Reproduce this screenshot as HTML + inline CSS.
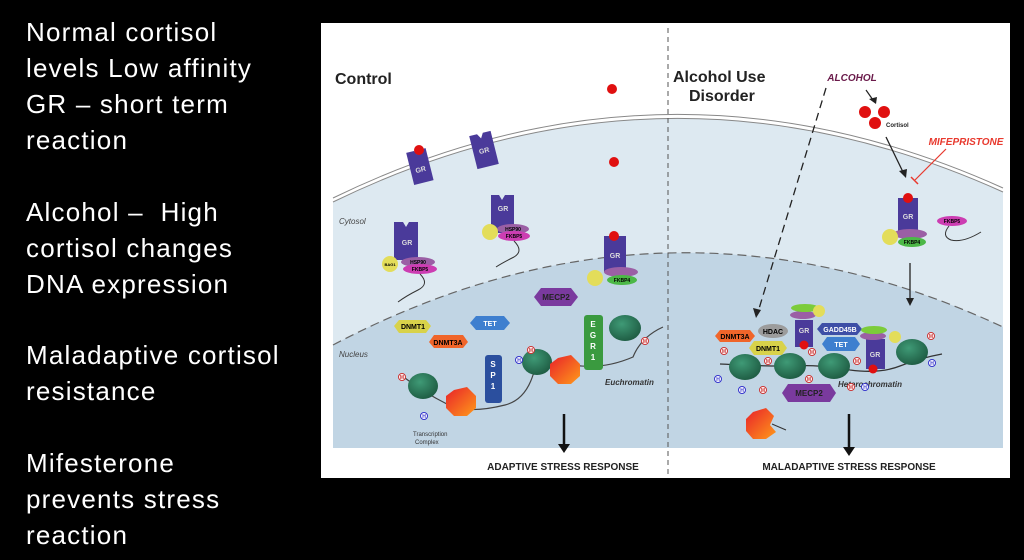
<!DOCTYPE html>
<html><head><meta charset="utf-8"><style>
html,body{margin:0;padding:0;background:#000;width:1024px;height:560px;overflow:hidden}
.t{position:absolute;left:26px;color:#fff;font-family:"Liberation Sans",sans-serif;font-size:26px;letter-spacing:1.2px;line-height:36px;white-space:nowrap}
svg{position:absolute;left:0;top:0}
</style></head><body>
<div class="t" style="top:14px">Normal cortisol<br>levels Low affinity<br>GR – short term<br>reaction</div>
<div class="t" style="top:194px">Alcohol –&nbsp; High<br>cortisol changes<br>DNA expression</div>
<div class="t" style="top:337px">Maladaptive cortisol<br>resistance</div>
<div class="t" style="top:445px">Mifesterone<br>prevents stress<br>reaction</div>
<svg width="1024" height="560" viewBox="0 0 1024 560" font-family="Liberation Sans, sans-serif">
<defs>
<linearGradient id="og" x1="0" y1="0" x2="1" y2="1"><stop offset="0" stop-color="#e8202a"/><stop offset="1" stop-color="#ff9a1a"/></linearGradient>
<radialGradient id="ng" cx="0.4" cy="0.35" r="0.7"><stop offset="0" stop-color="#3f9a76"/><stop offset="1" stop-color="#1d5a41"/></radialGradient>
</defs>
<rect x="321" y="23" width="689" height="455" fill="#fff"/>
<path d="M333,202 Q666,40 1003,192 L1003,448 L333,448 Z" fill="#dde9f1"/>
<path d="M333,345 Q666,170 1003,327 L1003,448 L333,448 Z" fill="#c1d5e4"/>
<path d="M333,202 Q666,40 1003,192" fill="none" stroke="#888" stroke-width="1"/>
<path d="M333,198 Q666,36 1003,188" fill="none" stroke="#888" stroke-width="1"/>
<path d="M333,345 Q666,170 1003,327" fill="none" stroke="#666" stroke-width="1.2" stroke-dasharray="9,5"/>
<line x1="668" y1="28" x2="668" y2="478" stroke="#555" stroke-width="1" stroke-dasharray="5,4"/>
<text x="335" y="84" font-size="16" font-weight="bold" fill="#222">Control</text>
<text x="673" y="82" font-size="16" font-weight="bold" fill="#222">Alcohol Use</text>
<text x="689" y="101" font-size="16" font-weight="bold" fill="#222">Disorder</text>
<text x="339" y="224" font-size="8" font-style="italic" fill="#444">Cytosol</text>
<text x="339" y="357" font-size="8" font-style="italic" fill="#444">Nucleus</text>
<circle cx="612" cy="89" r="5" fill="#e01010"/>
<circle cx="614" cy="162" r="5" fill="#e01010"/>
<g transform="rotate(-14 420 167)"><path d="M410,150 h8 l2,4 l2,-4 h8 v33 h-20 z" fill="#4a3a9a"/><text x="420" y="172" font-size="7" fill="#ddd" text-anchor="middle" font-weight="bold">GR</text></g>
<circle cx="419" cy="150" r="5" fill="#e01010"/>
<g transform="rotate(-14 484 150)"><path d="M473,133 h8 l3,5 l3,-5 h8 v34 h-22 z" fill="#4a3a9a"/><text x="484" y="153" font-size="7" fill="#ddd" text-anchor="middle" font-weight="bold">GR</text></g>
<path d="M394,222 h9 l3,5 l3,-5 h9 v38 h-24 z" fill="#4a3a9a"/><text x="407" y="245" font-size="7" fill="#ddd" text-anchor="middle" font-weight="bold">GR</text>
<ellipse cx="418" cy="262" rx="17" ry="5" fill="#9b5fa5"/><text x="418" y="264" font-size="5" text-anchor="middle" font-weight="bold">HSP90</text>
<ellipse cx="420" cy="269" rx="17" ry="5" fill="#cc3db2"/><text x="420" y="271" font-size="5" text-anchor="middle" font-weight="bold">FKBP5</text>
<circle cx="390" cy="264" r="8" fill="#e3dd5a"/><text x="390" y="266" font-size="4" text-anchor="middle" font-weight="bold">BAG1</text>
<path d="M420,274 q10,10 -2,16 q-12,6 -20,12" fill="none" stroke="#333" stroke-width="1"/>
<path d="M491,195 h8 l3,5 l3,-5 h9 v38 h-23 z" fill="#4a3a9a"/><text x="503" y="211" font-size="7" fill="#ddd" text-anchor="middle" font-weight="bold">GR</text>
<ellipse cx="513" cy="229" rx="16" ry="5" fill="#9b5fa5"/><text x="513" y="231" font-size="5" text-anchor="middle" font-weight="bold">HSP90</text>
<ellipse cx="514" cy="236" rx="16" ry="5" fill="#cc3db2"/><text x="514" y="238" font-size="5" text-anchor="middle" font-weight="bold">FKBP5</text>
<circle cx="490" cy="232" r="8" fill="#e3dd5a"/>
<path d="M514,241 q10,10 0,16 q-12,6 -18,10" fill="none" stroke="#333" stroke-width="1"/>
<path d="M604,236 h22 v36 h-22 z" fill="#4a3a9a"/><text x="615" y="258" font-size="7" fill="#ddd" text-anchor="middle" font-weight="bold">GR</text>
<circle cx="614" cy="236" r="5" fill="#e01010"/>
<ellipse cx="621" cy="272" rx="17" ry="5" fill="#9b5fa5"/>
<ellipse cx="622" cy="280" rx="15" ry="5" fill="#4cb847"/><text x="622" y="282" font-size="5" text-anchor="middle" font-weight="bold">FKBP4</text>
<circle cx="595" cy="278" r="8" fill="#e3dd5a"/>
<polygon points="534,297 541,288 571,288 578,297 571,306 541,306" fill="#7a3a9e"/><text x="556" y="300" font-size="8" font-weight="bold" text-anchor="middle" fill="#222">MECP2</text>
<polygon points="470,323 476,316 504,316 510,323 504,330 476,330" fill="#3e7fcf"/><text x="490" y="326" font-size="7" font-weight="bold" text-anchor="middle" fill="#fff">TET</text>
<polygon points="394,326 399,320 426,320 431,326 426,333 399,333" fill="#d8d24a"/><text x="413" y="329" font-size="7" font-weight="bold" text-anchor="middle">DNMT1</text>
<polygon points="429,342 434,335 463,335 468,342 463,348 434,348" fill="#f0652a"/><text x="448" y="345" font-size="7" font-weight="bold" text-anchor="middle">DNMT3A</text>
<path d="M405,378 q20,15 40,25 q20,12 60,2 q20,-5 28,-30 q8,-15 40,-10 q30,5 60,-8 q8,-20 30,-30" fill="none" stroke="#444" stroke-width="1.2"/>
<ellipse cx="423" cy="386" rx="15" ry="13" fill="url(#ng)"/>
<ellipse cx="537" cy="362" rx="15" ry="13" fill="url(#ng)"/>
<ellipse cx="625" cy="328" rx="16" ry="13" fill="url(#ng)"/>
<polygon points="454,390 467,387 476,396 476,408 467,416 454,416 446,408 446,396" fill="url(#og)"/>
<polygon points="558,358 571,355 580,364 580,376 571,384 558,384 550,376 550,364" fill="url(#og)"/>
<rect x="485" y="355" width="17" height="48" rx="3" fill="#2b4f9e"/><text x="493" y="367" font-size="8" font-weight="bold" fill="#fff" text-anchor="middle">S</text><text x="493" y="378" font-size="8" font-weight="bold" fill="#fff" text-anchor="middle">P</text><text x="493" y="389" font-size="8" font-weight="bold" fill="#fff" text-anchor="middle">1</text>
<rect x="584" y="315" width="19" height="55" rx="3" fill="#3a9a3f"/><text x="593" y="327" font-size="8" font-weight="bold" fill="#fff" text-anchor="middle">E</text><text x="593" y="338" font-size="8" font-weight="bold" fill="#fff" text-anchor="middle">G</text><text x="593" y="349" font-size="8" font-weight="bold" fill="#fff" text-anchor="middle">R</text><text x="593" y="360" font-size="8" font-weight="bold" fill="#fff" text-anchor="middle">1</text>
<text x="605" y="385" font-size="8" font-weight="bold" font-style="italic" fill="#333">Euchromatin</text>
<text x="413" y="436" font-size="6" fill="#333">Transcription</text><text x="415" y="444" font-size="6" fill="#333">Complex</text>
<g font-size="5" text-anchor="middle" font-weight="bold">
<circle cx="402" cy="377" r="3.5" fill="#fff" stroke="#c33"/><text x="402" y="379" fill="#c33">M</text>
<circle cx="424" cy="416" r="3.5" fill="#fff" stroke="#33c"/><text x="424" y="418" fill="#33c">H</text>
<circle cx="519" cy="360" r="3.5" fill="#fff" stroke="#33c"/><text x="519" y="362" fill="#33c">H</text>
<circle cx="531" cy="350" r="3.5" fill="#fff" stroke="#c33"/><text x="531" y="352" fill="#c33">M</text>
<circle cx="645" cy="341" r="3.5" fill="#fff" stroke="#c33"/><text x="645" y="343" fill="#c33">M</text>
</g>
<line x1="564" y1="414" x2="564" y2="445" stroke="#111" stroke-width="2.5"/><polygon points="558,444 570,444 564,453" fill="#111"/>
<text x="563" y="470" font-size="10" font-weight="bold" text-anchor="middle" fill="#222">ADAPTIVE STRESS RESPONSE</text>
<text x="852" y="81" font-size="10" font-weight="bold" font-style="italic" fill="#6a1a4a" text-anchor="middle">ALCOHOL</text>
<line x1="826" y1="88" x2="758" y2="312" stroke="#222" stroke-width="1.3" stroke-dasharray="8,5"/><polygon points="753,308 761,310 756,318" fill="#222"/>
<line x1="866" y1="90" x2="873" y2="100" stroke="#222" stroke-width="1.2"/><polygon points="869,99 877,97 876,104" fill="#222"/>
<circle cx="865" cy="112" r="6" fill="#e01010"/><circle cx="884" cy="112" r="6" fill="#e01010"/><circle cx="875" cy="123" r="6" fill="#e01010"/>
<text x="886" y="127" font-size="6" font-weight="bold" fill="#222">Cortisol</text>
<line x1="886" y1="137" x2="903" y2="172" stroke="#222" stroke-width="1.3"/><polygon points="899,171 907,169 906,178" fill="#222"/>
<text x="966" y="145" font-size="10" font-weight="bold" font-style="italic" fill="#e8392e" text-anchor="middle">MIFEPRISTONE</text>
<line x1="946" y1="149" x2="915" y2="180" stroke="#e8392e" stroke-width="1.2"/><line x1="911" y1="177" x2="918" y2="184" stroke="#e8392e" stroke-width="1.5"/>
<rect x="898" y="198" width="20" height="38" fill="#4a3a9a"/><text x="908" y="219" font-size="7" fill="#ddd" text-anchor="middle" font-weight="bold">GR</text>
<circle cx="908" cy="198" r="5" fill="#e01010"/>
<ellipse cx="910" cy="234" rx="17" ry="5" fill="#9b5fa5"/>
<ellipse cx="912" cy="242" rx="14" ry="5" fill="#4cb847"/><text x="912" y="244" font-size="5" text-anchor="middle" font-weight="bold">FKBP4</text>
<circle cx="890" cy="237" r="8" fill="#e3dd5a"/>
<ellipse cx="952" cy="221" rx="15" ry="5" fill="#cc3db2"/><text x="952" y="223" font-size="5" text-anchor="middle" font-weight="bold">FKBP5</text>
<path d="M949,226 q-8,10 2,14 q12,3 30,-8" fill="none" stroke="#333" stroke-width="1"/>
<line x1="910" y1="263" x2="910" y2="300" stroke="#222" stroke-width="1.3"/><polygon points="906,298 914,298 910,306" fill="#222"/>
<path d="M720,364 q40,2 60,2 q40,-2 70,4 q30,4 50,-4 q20,-8 42,-12" fill="none" stroke="#333" stroke-width="1.3"/>
<polygon points="715,336 720,330 750,330 755,336 750,342 720,342" fill="#f0652a"/><text x="735" y="339" font-size="7" font-weight="bold" text-anchor="middle">DNMT3A</text>
<ellipse cx="773" cy="331" rx="15" ry="7" fill="#9c9c9c"/><text x="773" y="334" font-size="7" font-weight="bold" text-anchor="middle">HDAC</text>
<polygon points="749,348 754,341 782,341 787,348 782,355 754,355" fill="#d8d24a"/><text x="768" y="351" font-size="7" font-weight="bold" text-anchor="middle">DNMT1</text>
<ellipse cx="745" cy="367" rx="16" ry="13" fill="url(#ng)"/>
<ellipse cx="790" cy="366" rx="16" ry="13" fill="url(#ng)"/>
<ellipse cx="834" cy="366" rx="16" ry="13" fill="url(#ng)"/>
<ellipse cx="912" cy="352" rx="16" ry="13" fill="url(#ng)"/>
<rect x="795" y="320" width="18" height="27" fill="#4a3a9a"/><text x="804" y="333" font-size="7" fill="#ddd" text-anchor="middle" font-weight="bold">GR</text>
<circle cx="804" cy="345" r="4.5" fill="#e01010"/>
<ellipse cx="803" cy="315" rx="13" ry="4" fill="#9b5fa5"/><ellipse cx="805" cy="308" rx="14" ry="4" fill="#7ccc3a"/><circle cx="819" cy="311" r="6" fill="#e3dd5a"/>
<polygon points="817,329 822,323 857,323 862,329 857,335 822,335" fill="#3e4fa6"/><text x="840" y="332" font-size="7" font-weight="bold" text-anchor="middle" fill="#fff">GADD45B</text>
<polygon points="822,344 827,337 855,337 860,344 855,351 827,351" fill="#3e7fcf"/><text x="841" y="347" font-size="7" font-weight="bold" text-anchor="middle" fill="#fff">TET</text>
<rect x="866" y="339" width="19" height="30" fill="#4a3a9a"/><text x="875" y="357" font-size="7" fill="#ddd" text-anchor="middle" font-weight="bold">GR</text>
<circle cx="873" cy="369" r="4.5" fill="#e01010"/>
<ellipse cx="873" cy="336" rx="13" ry="4" fill="#9b5fa5"/><ellipse cx="874" cy="330" rx="13" ry="4" fill="#7ccc3a"/><circle cx="895" cy="337" r="6" fill="#e3dd5a"/>
<polygon points="782,393 788,384 830,384 836,393 830,402 788,402" fill="#7a3a9e"/><text x="809" y="396" font-size="8" font-weight="bold" text-anchor="middle" fill="#222">MECP2</text>
<text x="838" y="387" font-size="8" font-weight="bold" font-style="italic" fill="#333">Heterochromatin</text>
<polygon points="753,412 766,408 774,416 770,425 776,432 766,439 753,439 746,431 746,419" fill="url(#og)"/>
<line x1="772" y1="424" x2="786" y2="430" stroke="#333" stroke-width="1"/>
<g font-size="5" text-anchor="middle" font-weight="bold">
<circle cx="724" cy="351" r="3.5" fill="#fff" stroke="#c33"/><text x="724" y="353" fill="#c33">M</text>
<circle cx="718" cy="379" r="3.5" fill="#fff" stroke="#33c"/><text x="718" y="381" fill="#33c">H</text>
<circle cx="742" cy="390" r="3.5" fill="#fff" stroke="#33c"/><text x="742" y="392" fill="#33c">H</text>
<circle cx="763" cy="390" r="3.5" fill="#fff" stroke="#c33"/><text x="763" y="392" fill="#c33">M</text>
<circle cx="768" cy="361" r="3.5" fill="#fff" stroke="#c33"/><text x="768" y="363" fill="#c33">M</text>
<circle cx="812" cy="352" r="3.5" fill="#fff" stroke="#c33"/><text x="812" y="354" fill="#c33">M</text>
<circle cx="809" cy="379" r="3.5" fill="#fff" stroke="#c33"/><text x="809" y="381" fill="#c33">M</text>
<circle cx="857" cy="361" r="3.5" fill="#fff" stroke="#c33"/><text x="857" y="363" fill="#c33">M</text>
<circle cx="851" cy="387" r="3.5" fill="#fff" stroke="#c33"/><text x="851" y="389" fill="#c33">M</text>
<circle cx="865" cy="387" r="3.5" fill="#fff" stroke="#33c"/><text x="865" y="389" fill="#33c">H</text>
<circle cx="931" cy="336" r="3.5" fill="#fff" stroke="#c33"/><text x="931" y="338" fill="#c33">M</text>
<circle cx="932" cy="363" r="3.5" fill="#fff" stroke="#33c"/><text x="932" y="365" fill="#33c">H</text>
</g>
<line x1="849" y1="414" x2="849" y2="448" stroke="#111" stroke-width="2.5"/><polygon points="843,447 855,447 849,456" fill="#111"/>
<text x="849" y="470" font-size="10" font-weight="bold" text-anchor="middle" fill="#222">MALADAPTIVE STRESS RESPONSE</text>
</svg>
</body></html>
